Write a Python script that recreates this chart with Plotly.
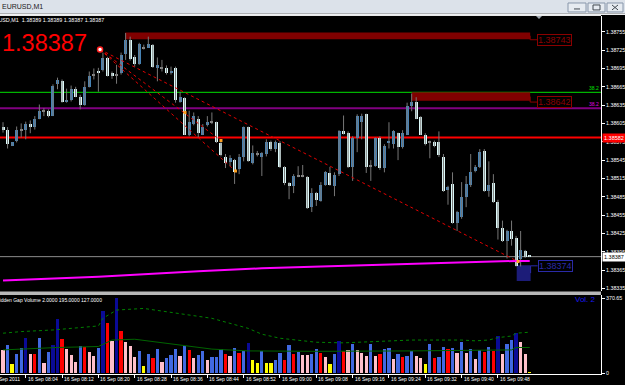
import plotly.graph_objects as go
import pandas as pd

W, H = 625, 385

# ---------------- data ----------------
bar_times = pd.date_range("2011-09-16 07:59", periods=117, freq="min")

opens = [1.38600, 1.38594, 1.38569, 1.38576, 1.38594, 1.38595, 1.38605, 1.38599, 1.38613, 1.38625,
         1.38625, 1.38617, 1.38670, 1.38675, 1.38641, 1.38643, 1.38662, 1.38649, 1.38636, 1.38665,
         1.38685, 1.38691, 1.38693, 1.38713, 1.38688, 1.38685, 1.38687, 1.38719, 1.38742, 1.38714,
         1.38703, 1.38729, 1.38729, 1.38734, 1.38696, 1.38696, 1.38696, 1.38688, 1.38696, 1.38641,
         1.38646, 1.38587, 1.38604, 1.38613, 1.38587, 1.38602, 1.38607, 1.38607, 1.38573, 1.38551,
         1.38542, 1.38545, 1.38530, 1.38550, 1.38599, 1.38540, 1.38555, 1.38551, 1.38555, 1.38574,
         1.38564, 1.38573, 1.38534, 1.38507, 1.38503, 1.38519, 1.38519, 1.38517, 1.38468, 1.38491,
         1.38478, 1.38504, 1.38524, 1.38503, 1.38522, 1.38592, 1.38590, 1.38534, 1.38581, 1.38608,
         1.38620, 1.38535, 1.38535, 1.38581, 1.38532, 1.38573, 1.38571, 1.38589, 1.38566, 1.38587,
         1.38634, 1.38641, 1.38615, 1.38587, 1.38574, 1.38574, 1.38574, 1.38551, 1.38496, 1.38506,
         1.38442, 1.38452, 1.38485, 1.38504, 1.38527, 1.38534, 1.38560, 1.38494, 1.38507, 1.38477,
         1.38434, 1.38413, 1.38429, 1.38418, 1.38384, 1.38397, 1.38389]
highs = [1.38607, 1.38599, 1.38574, 1.38600, 1.38605, 1.38608, 1.38610, 1.38617, 1.38636, 1.38630,
         1.38628, 1.38669, 1.38680, 1.38677, 1.38662, 1.38667, 1.38665, 1.38652, 1.38674, 1.38690,
         1.38695, 1.38696, 1.38721, 1.38714, 1.38690, 1.38701, 1.38721, 1.38753, 1.38747, 1.38717,
         1.38737, 1.38734, 1.38747, 1.38735, 1.38713, 1.38709, 1.38700, 1.38698, 1.38698, 1.38657,
         1.38648, 1.38626, 1.38623, 1.38617, 1.38604, 1.38617, 1.38623, 1.38608, 1.38579, 1.38555,
         1.38553, 1.38547, 1.38555, 1.38600, 1.38600, 1.38569, 1.38560, 1.38558, 1.38579, 1.38577,
         1.38577, 1.38576, 1.38535, 1.38509, 1.38522, 1.38535, 1.38537, 1.38519, 1.38499, 1.38493,
         1.38509, 1.38527, 1.38534, 1.38525, 1.38594, 1.38618, 1.38592, 1.38584, 1.38620, 1.38621,
         1.38621, 1.38545, 1.38582, 1.38584, 1.38571, 1.38607, 1.38594, 1.38590, 1.38594, 1.38639,
         1.38654, 1.38648, 1.38617, 1.38589, 1.38577, 1.38577, 1.38592, 1.38555, 1.38503, 1.38525,
         1.38462, 1.38509, 1.38519, 1.38555, 1.38537, 1.38563, 1.38563, 1.38543, 1.38522, 1.38480,
         1.38446, 1.38431, 1.38446, 1.38421, 1.38429, 1.38398, 1.38389]
lows = [1.38590, 1.38564, 1.38568, 1.38574, 1.38582, 1.38579, 1.38589, 1.38595, 1.38612, 1.38617,
        1.38615, 1.38617, 1.38661, 1.38639, 1.38639, 1.38641, 1.38648, 1.38628, 1.38634, 1.38664,
        1.38677, 1.38657, 1.38690, 1.38682, 1.38678, 1.38670, 1.38685, 1.38709, 1.38708, 1.38698,
        1.38701, 1.38726, 1.38729, 1.38696, 1.38674, 1.38690, 1.38685, 1.38685, 1.38639, 1.38639,
        1.38586, 1.38584, 1.38602, 1.38582, 1.38586, 1.38600, 1.38604, 1.38573, 1.38551, 1.38532,
        1.38535, 1.38506, 1.38522, 1.38543, 1.38542, 1.38538, 1.38551, 1.38519, 1.38551, 1.38560,
        1.38558, 1.38532, 1.38504, 1.38481, 1.38491, 1.38517, 1.38517, 1.38465, 1.38460, 1.38470,
        1.38477, 1.38503, 1.38503, 1.38486, 1.38519, 1.38587, 1.38532, 1.38511, 1.38558, 1.38579,
        1.38524, 1.38511, 1.38534, 1.38529, 1.38525, 1.38564, 1.38564, 1.38545, 1.38564, 1.38586,
        1.38625, 1.38612, 1.38586, 1.38569, 1.38548, 1.38566, 1.38550, 1.38493, 1.38472, 1.38441,
        1.38429, 1.38449, 1.38468, 1.38501, 1.38525, 1.38532, 1.38493, 1.38485, 1.38475, 1.38415,
        1.38411, 1.38384, 1.38405, 1.38371, 1.38371, 1.38385, 1.38387]
closes = [1.38594, 1.38571, 1.38574, 1.38594, 1.38594, 1.38605, 1.38599, 1.38613, 1.38625, 1.38625,
          1.38617, 1.38667, 1.38677, 1.38641, 1.38644, 1.38662, 1.38649, 1.38636, 1.38665, 1.38683,
          1.38685, 1.38688, 1.38713, 1.38683, 1.38682, 1.38685, 1.38717, 1.38742, 1.38711, 1.38703,
          1.38735, 1.38729, 1.38735, 1.38698, 1.38700, 1.38696, 1.38688, 1.38691, 1.38643, 1.38649,
          1.38587, 1.38607, 1.38617, 1.38589, 1.38599, 1.38608, 1.38607, 1.38574, 1.38553, 1.38540,
          1.38548, 1.38525, 1.38551, 1.38599, 1.38543, 1.38556, 1.38555, 1.38556, 1.38574, 1.38564,
          1.38574, 1.38534, 1.38507, 1.38503, 1.38519, 1.38519, 1.38519, 1.38467, 1.38491, 1.38480,
          1.38504, 1.38525, 1.38504, 1.38521, 1.38592, 1.38589, 1.38534, 1.38582, 1.38617, 1.38618,
          1.38534, 1.38535, 1.38581, 1.38532, 1.38569, 1.38577, 1.38592, 1.38566, 1.38589, 1.38633,
          1.38641, 1.38613, 1.38587, 1.38571, 1.38574, 1.38568, 1.38553, 1.38494, 1.38501, 1.38442,
          1.38460, 1.38485, 1.38506, 1.38525, 1.38534, 1.38558, 1.38494, 1.38504, 1.38477, 1.38434,
          1.38413, 1.38429, 1.38416, 1.38372, 1.38398, 1.38387, 1.38387]

volumes = [110, 137, 41, 90, 124, 173, 90, 90, 173, 49,
           104, 137, 268, 165, 119, 86, 54, 132, 127, 104,
           82, 124, 308, 247, 156, 370, 209, 153, 132, 77,
           107, 33, 90, 71, 115, 54, 74, 87, 115, 82,
           132, 110, 74, 87, 107, 64, 77, 77, 119, 90,
           84, 124, 99, 107, 148, 64, 49, 107, 49, 49,
           61, 99, 61, 135, 94, 104, 87, 87, 94, 119,
           99, 77, 44, 90, 156, 107, 110, 143, 114, 99,
           82, 143, 82, 94, 115, 124, 66, 90, 77, 82,
           107, 82, 71, 41, 143, 74, 77, 128, 115, 124,
           99, 153, 99, 119, 66, 114, 104, 128, 107, 184,
           90, 143, 160, 198, 153, 94, 2]
# b=normal, n=high, r=climax, p=weak, y=low
volume_kind = ("pbybbnprbp bnnrpppbrp pbnrpnrppp bybrbpbbbp brpbbpbbbr "
               "pbrbnyybyy bbrbrbppbb rpybnrpbpp pbprbbpbrb bppybrbbrb "
               "pbpbpbrbrn pbbnppy").replace(" ", "")

# volume average (solid) and upper band (dotted), read at selected bars (1-based)
vma_bar = [1, 13, 22, 25, 30, 37, 42, 47, 55, 70, 91, 105, 112, 113, 114, 117]
vma_val = [115, 127, 132, 164, 168, 148, 132, 119, 110, 108, 110, 112, 112, 115, 127, 127]
vband_bar = [1, 5, 12, 22, 23, 26, 32, 38, 44, 47, 55, 58, 62, 70, 76, 85, 91, 102, 105, 108, 110, 113, 114, 117]
vband_val = [198, 206, 214, 234, 272, 313, 321, 301, 280, 272, 222, 193, 173, 153, 150, 158, 164, 164, 160, 164, 176, 184, 198, 203]

# price moving average (magenta), read at selected bars
pma_bar = [1, 22, 44, 58, 71, 86, 95, 114, 117]
pma_val = [1.38348, 1.38354, 1.38363, 1.38368, 1.38371, 1.38374, 1.38377, 1.38380, 1.38380]

price_ticks = [1.38335, 1.38365, 1.38395, 1.38425, 1.38455, 1.38485, 1.38515, 1.38545,
               1.38575, 1.38605, 1.38635, 1.38665, 1.38695, 1.38725, 1.38755]
time_ticks = ["2011-09-16 08:04", "2011-09-16 08:12", "2011-09-16 08:20", "2011-09-16 08:28",
              "2011-09-16 08:36", "2011-09-16 08:44", "2011-09-16 08:52", "2011-09-16 09:00",
              "2011-09-16 09:08", "2011-09-16 09:16", "2011-09-16 09:24", "2011-09-16 09:32",
              "2011-09-16 09:40", "2011-09-16 09:48"]
time_labels = ["16 Sep 08:04", "16 Sep 08:12", "16 Sep 08:20", "16 Sep 08:28", "16 Sep 08:36",
               "16 Sep 08:44", "16 Sep 08:52", "16 Sep 09:00", "16 Sep 09:08", "16 Sep 09:16",
               "16 Sep 09:24", "16 Sep 09:32", "16 Sep 09:40", "16 Sep 09:48"]

level_fib_green = 1.38656
level_fib_purple = 1.38630
level_red = 1.38582
bid = 1.38387

zone_x0 = ["2011-09-16 08:25:53", "2011-09-16 09:29:02", "2011-09-16 09:52:08"]
zone_x1 = ["2011-09-16 09:55:06", "2011-09-16 09:55:06", "2011-09-16 09:55:12"]
zone_lo = [1.38743, 1.38642, 1.38347]
zone_hi = [1.38754, 1.38656, 1.38373]
zone_text = ["1.38743", "1.38642", "1.38374"]
zone_label_y = [1.38742, 1.38640, 1.38372]

trend_origin = ("2011-09-16 08:20:22", 1.38726)
trend_end_t = ["2011-09-16 09:52:26", "2011-09-16 08:47:00", "2011-09-16 08:50:12"]
trend_end_p = [1.38379, 1.38577, 1.38527]
mark_t = ["2011-09-16 08:39:05", "2011-09-16 08:47:00", "2011-09-16 08:50:12", "2011-09-16 09:52:26"]
mark_p = [1.38623, 1.38577, 1.38527, 1.38379]

# ---------------- styling ----------------
C_UP = "#4682B4"
C_DN = "#DDFAFA"
C_DOJI = "#8a8a8a"
C_WICK = "#777777"
VOL_COL = {"b": "#4169E1", "n": "#0A0A96", "r": "#FF0000", "p": "#FFC0CB", "y": "#FFFF00"}

X_RIGHT = 601
def px_x(x): return x / W
def px_y(y): return 1 - y / H

t_min = pd.Timestamp("2011-09-16 07:58:20")
t_max = pd.Timestamp("2011-09-16 10:10:42")
MS_MIN = 60000

fig = go.Figure()

# wicks
wx, wy = [], []
for t, lo, hi in zip(bar_times, lows, highs):
    wx += [t, t, None]
    wy += [lo, hi, None]
fig.add_trace(go.Scatter(x=wx, y=wy, mode="lines", line=dict(color=C_WICK, width=1),
                         hoverinfo="skip", xaxis="x", yaxis="y"))

# bodies
b_base, b_h, b_col = [], [], []
for o, c in zip(opens, closes):
    lo_b, hi_b = min(o, c), max(o, c)
    if hi_b - lo_b < 0.000015:
        mid = (hi_b + lo_b) / 2
        b_base.append(mid - 0.000008)
        b_h.append(0.000016)
        b_col.append(C_DOJI)
    else:
        b_base.append(lo_b)
        b_h.append(hi_b - lo_b)
        b_col.append(C_UP if c > o else C_DN)
fig.add_trace(go.Bar(x=bar_times, y=b_h, base=b_base, width=0.66 * MS_MIN,
                     marker=dict(color=b_col, line=dict(width=0)), xaxis="x", yaxis="y"))

# price MA
fig.add_trace(go.Scatter(x=[bar_times[i - 1] for i in pma_bar], y=pma_val, mode="lines",
                         line=dict(color="#FF00FF", width=2), xaxis="x", yaxis="y"))

# trend lines
for te, pe in zip(trend_end_t, trend_end_p):
    fig.add_trace(go.Scatter(x=[trend_origin[0], te], y=[trend_origin[1], pe], mode="lines",
                             line=dict(color="#E00000", width=1, dash="dot"), xaxis="x", yaxis="y"))
fig.add_trace(go.Scatter(x=mark_t, y=mark_p, mode="markers",
                         marker=dict(symbol="square", size=3, color="#FFA020"), xaxis="x", yaxis="y"))
fig.add_trace(go.Scatter(x=[trend_origin[0]], y=[trend_origin[1]], mode="markers",
                         marker=dict(symbol="circle", size=5, color="#FFFFFF",
                                     line=dict(color="#FF2020", width=1.5)), xaxis="x", yaxis="y"))

# volume
fig.add_trace(go.Bar(x=bar_times, y=volumes, width=0.72 * MS_MIN,
                     marker=dict(color=[VOL_COL[k] for k in volume_kind], line=dict(width=0)),
                     xaxis="x2", yaxis="y2"))
fig.add_trace(go.Scatter(x=[bar_times[i - 1] for i in vband_bar], y=vband_val, mode="lines",
                         line=dict(color="#008000", width=1, dash="dot"), xaxis="x2", yaxis="y2"))
fig.add_trace(go.Scatter(x=[bar_times[i - 1] for i in vma_bar], y=vma_val, mode="lines",
                         line=dict(color="#006400", width=1), xaxis="x2", yaxis="y2"))

shapes = []
# horizontal levels
for lvl, col, wd in [(level_fib_green, "#00E000", 1), (level_fib_purple, "#800080", 2),
                     (level_red, "#FF0000", 2), (bid, "#8C8C8C", 1)]:
    shapes.append(dict(type="line", xref="x domain", yref="y", x0=0, x1=1, y0=lvl, y1=lvl,
                       line=dict(color=col, width=wd), layer="below"))
# zones
zone_fill = ["#800000", "#800000", "#1C1C78"]
zone_edge = ["#8B0000", "#8B0000", "#2A2AA8"]
for x0, x1, lo, hi, f, e, ly in zip(zone_x0, zone_x1, zone_lo, zone_hi, zone_fill, zone_edge, zone_label_y):
    shapes.append(dict(type="rect", xref="x", yref="y", x0=x0, x1=x1, y0=lo, y1=hi,
                       fillcolor=f, line=dict(width=0), layer="below"))
    # connector from zone to its label
    shapes.append(dict(type="line", xref="x", yref="y", xsizemode="pixel", xanchor=x1,
                       x0=0, x1=7, y0=ly, y1=ly, line=dict(color=e, width=1)))
    shapes.append(dict(type="line", xref="x", yref="y", xsizemode="pixel", xanchor=x1,
                       x0=0, x1=0, y0=ly, y1=(lo + hi) / 2, line=dict(color=e, width=1)))

# separator & chrome
shapes += [
    dict(type="rect", xref="paper", yref="paper", x0=0, x1=px_x(X_RIGHT), y0=px_y(296.5), y1=px_y(293),
         fillcolor="#B8B8B8", line=dict(width=0)),
    dict(type="rect", xref="paper", yref="paper", x0=0, x1=1, y0=px_y(13.5), y1=1,
         fillcolor="#DCE2EA", line=dict(width=0)),
    dict(type="rect", xref="paper", yref="paper", x0=0, x1=1, y0=px_y(15), y1=px_y(13.5),
         fillcolor="#EEF0F2", line=dict(width=0)),
    dict(type="line", xref="paper", yref="paper", x0=0, x1=px_x(X_RIGHT), y0=px_y(15.5), y1=px_y(15.5),
         line=dict(color="#FFFFFF", width=1)),
    dict(type="path", xref="paper", yref="paper",
         path=f"M {px_x(536)} {px_y(16)} L {px_x(542)} {px_y(16)} L {px_x(539)} {px_y(19)} Z",
         fillcolor="#A0A8B0", line=dict(width=0)),
]
for bx0, bx1 in [(568, 586), (588, 605), (607, 623)]:
    shapes.append(dict(type="rect", xref="paper", yref="paper", x0=px_x(bx0), x1=px_x(bx1),
                       y0=px_y(12), y1=px_y(3), fillcolor="#E6EBF1", line=dict(color="#8896AA", width=1)))
shapes.append(dict(type="line", xref="paper", yref="paper", x0=px_x(574), x1=px_x(580), y0=px_y(9), y1=px_y(9),
                   line=dict(color="#404850", width=1)))
shapes.append(dict(type="rect", xref="paper", yref="paper", x0=px_x(593), x1=px_x(600), y0=px_y(10), y1=px_y(5),
                   line=dict(color="#404850", width=1)))
shapes.append(dict(type="line", xref="paper", yref="paper", x0=px_x(612), x1=px_x(618), y0=px_y(10), y1=px_y(5),
                   line=dict(color="#404850", width=1)))
shapes.append(dict(type="line", xref="paper", yref="paper", x0=px_x(612), x1=px_x(618), y0=px_y(5), y1=px_y(10),
                   line=dict(color="#404850", width=1)))

annotations = []
FONT = "Liberation Sans, Arial, sans-serif"
# zone labels
for x1, txt, edge, ly in zip(zone_x1, zone_text, zone_edge, zone_label_y):
    annotations.append(dict(xref="x", yref="y", x=x1, y=ly, xanchor="left", yanchor="middle",
                            xshift=7, text=txt, showarrow=False,
                            font=dict(family=FONT, size=9, color=edge),
                            bordercolor=edge, borderwidth=1, borderpad=0))

# axis labels (right)
annotations.append(dict(xref="paper", yref="y", x=px_x(X_RIGHT) + 0.001, y=level_red, xanchor="left",
                        yanchor="middle", text="1.38582", showarrow=False, bgcolor="#FF0000",
                        font=dict(family=FONT, size=5.5, color="#FFFFFF"), borderpad=1))
annotations.append(dict(xref="paper", yref="y", x=px_x(X_RIGHT) + 0.001, y=bid, xanchor="left",
                        yanchor="middle", text="1.38387", showarrow=False, bgcolor="#FFFFFF",
                        font=dict(family=FONT, size=5.5, color="#000000"), borderpad=1))
annotations.append(dict(xref="paper", yref="y", x=px_x(600), y=level_fib_green, xanchor="right",
                        yanchor="bottom", text="38.2", showarrow=False,
                        font=dict(family=FONT, size=5, color="#00E000"), borderpad=0))
annotations.append(dict(xref="paper", yref="y", x=px_x(600), y=level_fib_purple, xanchor="right",
                        yanchor="bottom", text="38.2", showarrow=False,
                        font=dict(family=FONT, size=5, color="#E000E0"), borderpad=0))

# big price text and headers
annotations.append(dict(xref="paper", yref="paper", x=px_x(0), y=px_y(28.5), xanchor="left", yanchor="top",
                        text="1.38387", showarrow=False, font=dict(family=FONT, size=23.5, color="#FF0000")))
annotations.append(dict(xref="paper", yref="paper", x=px_x(106), y=px_y(20.5), xanchor="right",
                        yanchor="middle", text="EURUSD,M1  1.38389 1.38389 1.38387 1.38387", showarrow=False,
                        font=dict(family=FONT, size=5.4, color="#FFFFFF")))
annotations.append(dict(xref="paper", yref="paper", x=px_x(0), y=px_y(7), xanchor="left",
                        yanchor="middle", text="EURUSD,M1", showarrow=False,
                        font=dict(family=FONT, size=7, color="#202020")))
annotations.append(dict(xref="paper", yref="paper", x=px_x(104), y=px_y(301.5), xanchor="right",
                        yanchor="middle", text="Hidden Gap Volume 2.0000 195.0000 127.0000", showarrow=False,
                        font=dict(family=FONT, size=5, color="#FFFFFF")))
annotations.append(dict(xref="paper", yref="paper", x=px_x(598), y=px_y(301), xanchor="right",
                        yanchor="middle", text="Vol. 2", showarrow=False,
                        font=dict(family=FONT, size=8, color="#1A1AF0")))

# time labels
annotations.append(dict(xref="paper", yref="paper", x=px_x(-10), y=px_y(381), xanchor="left",
                        yanchor="middle", text="16 Sep 2011", showarrow=False,
                        font=dict(family=FONT, size=5, color="#FFFFFF")))
for tt, lab in zip(time_ticks, time_labels):
    annotations.append(dict(xref="x2", yref="paper", x=tt, y=px_y(381), xanchor="left", xshift=0,
                            yanchor="middle", text=lab, showarrow=False,
                            font=dict(family=FONT, size=5, color="#FFFFFF")))

axis_common = dict(showgrid=False, zeroline=False)
fig.update_layout(
    width=W, height=H, margin=dict(l=0, r=0, t=0, b=0, pad=0),
    paper_bgcolor="#000000", plot_bgcolor="#000000", showlegend=False, barmode="overlay",
    bargap=0,
    xaxis=dict(domain=[0, px_x(X_RIGHT)], range=[t_min, t_max], type="date", anchor="y",
               showticklabels=False, ticks="", showline=False, **axis_common),
    yaxis=dict(domain=[px_y(293), px_y(16)], range=[1.38330, 1.38781], side="right", anchor="x",
               tickvals=price_ticks, ticktext=[f"{v:.5f}" for v in price_ticks],
               ticks="outside", ticklen=3, tickcolor="#FFFFFF", showline=True, linecolor="#FFFFFF",
               linewidth=1, tickfont=dict(family=FONT, size=5.3, color="#FFFFFF"), **axis_common),
    xaxis2=dict(domain=[0, px_x(X_RIGHT)], matches="x", type="date", anchor="y2",
                tickvals=time_ticks, showticklabels=False, ticks="outside", ticklen=3,
                tickcolor="#FFFFFF", showline=True, linecolor="#FFFFFF", linewidth=1, **axis_common),
    yaxis2=dict(domain=[px_y(376), px_y(297)], range=[-4.94, 385.5], side="right", anchor="x2",
                tickvals=[0, 370.65], ticktext=["0", "370.65"], ticks="outside", ticklen=3,
                tickcolor="#FFFFFF", showline=True, linecolor="#FFFFFF", linewidth=1,
                tickfont=dict(family=FONT, size=5.3, color="#FFFFFF"), **axis_common),
    shapes=shapes, annotations=annotations,
)

fig.write_html("out.html")
